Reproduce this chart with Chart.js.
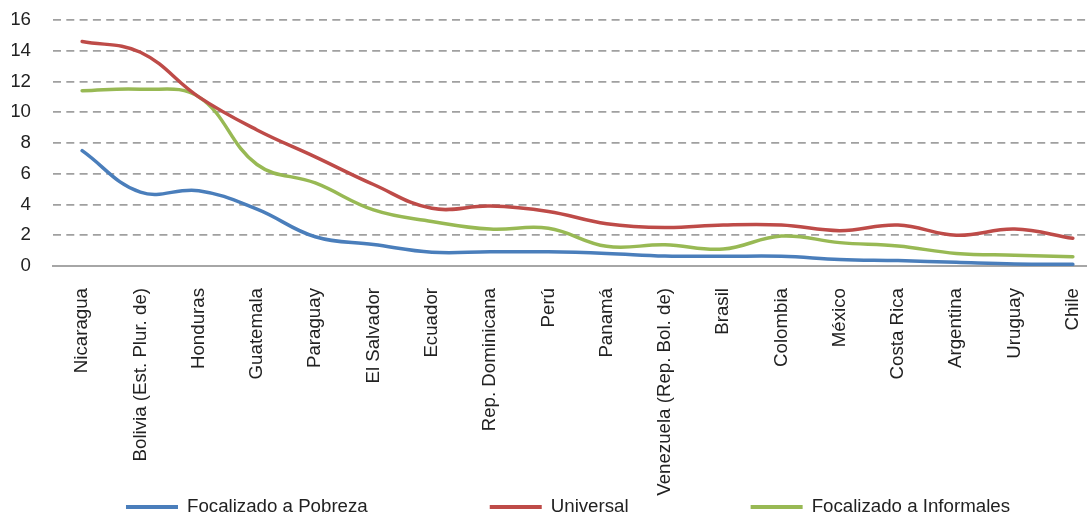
<!DOCTYPE html>
<html>
<head>
<meta charset="utf-8">
<script src="https://cdn.jsdelivr.net/npm/chart.js@4"></script>
<style>
  html, body { margin: 0; padding: 0; background: #fff; overflow: hidden; }
</style>
</head>
<body>
<canvas id="mycanvas" width="1102" height="517"></canvas>
<script>
var paises = ["Nicaragua", "Bolivia (Est. Plur. de)", "Honduras", "Guatemala", "Paraguay", "El Salvador",
	"Ecuador", "Rep. Dominicana", "Perú", "Panamá", "Venezuela (Rep. Bol. de)", "Brasil",
	"Colombia", "México", "Costa Rica", "Argentina", "Uruguay", "Chile"];

var pobreza = [7.5, 4.8, 4.9, 3.7, 1.9, 1.4, 0.9, 0.93, 0.92, 0.82, 0.65, 0.63, 0.63, 0.43, 0.35, 0.24, 0.13, 0.11];
var universal = [14.6, 13.9, 11.0, 8.85, 7.1, 5.3, 3.75, 3.9, 3.55, 2.75, 2.5, 2.67, 2.67, 2.3, 2.67, 2.0, 2.4, 1.8];
var informales = [11.4, 11.5, 11.0, 6.6, 5.4, 3.65, 2.9, 2.4, 2.45, 1.28, 1.38, 1.1, 1.95, 1.52, 1.3, 0.82, 0.7, 0.6];

var yTicks = [0, 2, 4, 6, 8, 10, 12, 14, 16];

var fuente = "'Liberation Sans', Arial, sans-serif";
var tam = 18.7;

// leyenda propia: items espaciados como en el original
var leyenda = {
	id: 'leyenda',
	afterDraw: function(chart) {
		var ctx = chart.ctx;
		var gap = 122, largo = 52, sep = 9, yc = 507;
		ctx.save();
		ctx.font = tam + "px " + fuente;
		var items = chart.data.datasets.map(function(d) {
			return { text: d.label, color: d.borderColor, w: largo + sep + ctx.measureText(d.label).width };
		});
		var total = items.reduce(function(s, it) { return s + it.w; }, 0) + gap * (items.length - 1);
		var x = 568 - total / 2;
		ctx.textBaseline = 'middle';
		ctx.textAlign = 'left';
		items.forEach(function(it) {
			ctx.fillStyle = it.color;
			ctx.fillRect(x, yc - 2, largo, 4);
			ctx.fillStyle = '#222';
			ctx.fillText(it.text, x + largo + sep, yc);
			x += it.w + gap;
		});
		ctx.restore();
	}
};

var chartdata = {
	labels: paises,
	datasets: [
		{ label: 'Focalizado a Pobreza', data: pobreza, borderColor: '#4A7EBB', backgroundColor: '#4A7EBB' },
		{ label: 'Universal', data: universal, borderColor: '#BE4B48', backgroundColor: '#BE4B48' },
		{ label: 'Focalizado a Informales', data: informales, borderColor: '#98B954', backgroundColor: '#98B954' }
	]
};

var ctx = document.getElementById('mycanvas');

var lineGraph = new Chart(ctx, {
	type: 'line',
	data: chartdata,
	options: {
		responsive: false,
		animation: false,
		layout: { padding: { top: 20, left: 12, right: 0, bottom: 20 } },
		elements: {
			line: { borderWidth: 3.5, tension: 0.4, borderCapStyle: 'round' },
			point: { radius: 0 }
		},
		plugins: {
			legend: { display: false },
			tooltip: { enabled: false }
		},
		scales: {
			x: {
				offset: true,
				grid: { display: false, drawTicks: false },
				border: { display: true, color: '#A6A6A6', width: 2 },
				ticks: {
					autoSkip: false,
					maxRotation: 90,
					minRotation: 90,
					padding: 22,
					color: '#222',
					font: { family: fuente, size: tam }
				},
				afterFit: function(scale) {
					scale.height = 231;
					scale.paddingLeft = 0;
					scale.paddingRight = 0;
				}
			},
			y: {
				min: 0,
				max: 16,
				afterBuildTicks: function(scale) {
					scale.ticks = yTicks.map(function(v) { return { value: v }; });
				},
				grid: { color: '#A0A0A0', lineWidth: 1.75, drawTicks: false },
				border: { display: false, dash: [8, 5.3] },
				ticks: {
					padding: 22,
					color: '#222',
					font: { family: fuente, size: tam }
				},
				afterFit: function(scale) {
					scale.width = 41;
					scale.paddingTop = 0;
					scale.paddingBottom = 0;
				}
			}
		}
	},
	plugins: [leyenda]
});
</script>
</body>
</html>
